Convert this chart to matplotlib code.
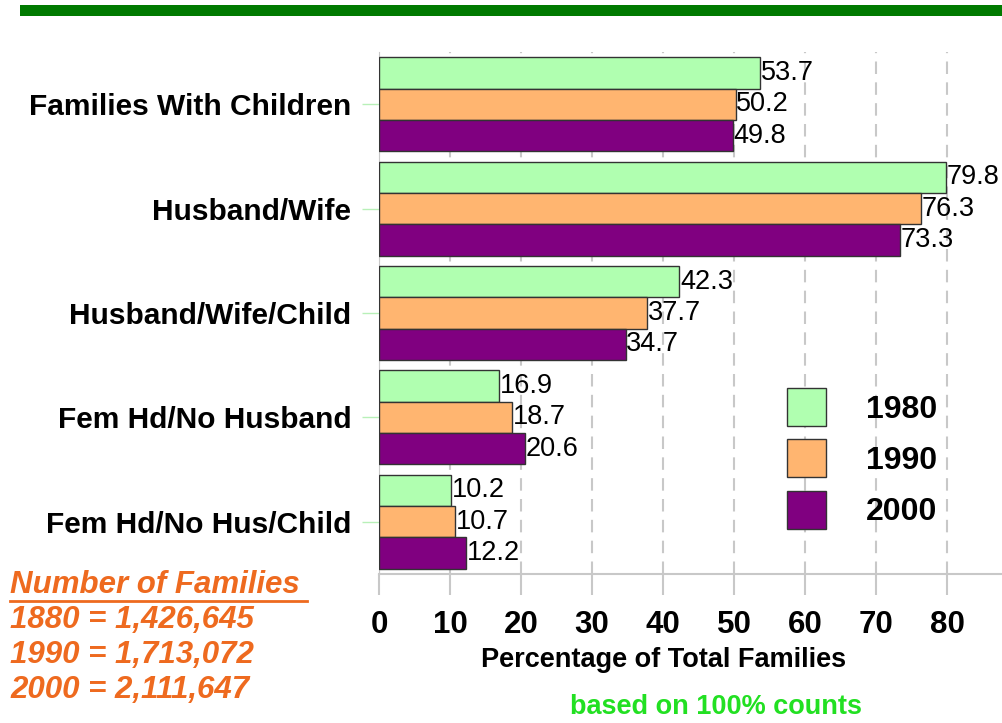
import numpy as np
import matplotlib
matplotlib.use('Agg')
import matplotlib.pyplot as plt
from matplotlib.patches import Patch, Rectangle
from matplotlib.lines import Line2D

plt.rcParams['font.family'] = ['Liberation Sans', 'DejaVu Sans']

categories = ['Families With Children', 'Husband/Wife', 'Husband/Wife/Child',
              'Fem Hd/No Husband', 'Fem Hd/No Hus/Child']
years = ['1980', '1990', '2000']
v1980 = [53.7, 79.8, 42.3, 16.9, 10.2]
v1990 = [50.2, 76.3, 37.7, 18.7, 10.7]
v2000 = [49.8, 73.3, 34.7, 20.6, 12.2]
notes = ['Number of Families', '1880 = 1,426,645', '1990 = 1,713,072', '2000 = 2,111,647']

colors = ['#B0FFB0', '#FFB570', '#800080']

fig = plt.figure(figsize=(10.02, 7.23), dpi=100)
ax = fig.add_axes([379/1002, 1-574/723, 1-379/1002, (574-52)/723])

y = np.arange(len(categories))
h = 0.3
for off, vals, c in zip([-h, 0, h], [v1980, v1990, v2000], colors):
    bars = ax.barh(y + off, vals, height=h, color=c, edgecolor='#333333', linewidth=1, zorder=3)
    for b, v in zip(bars, vals):
        ax.text(b.get_width() + 0.1, b.get_y() + h/2, f'{v:.1f}', va='center', ha='left',
                fontsize=19.5, color='black', clip_on=False, zorder=4)

ax.set_xlim(0, 87.7)
ax.set_ylim(4.5, -0.5)
ax.set_xticks(np.arange(0, 81, 10))
ax.set_yticks(y)
ax.set_yticklabels(categories, fontsize=21.5, fontweight='bold')
ax.tick_params(axis='x', length=15, color='#C8C8C8', width=1.5, pad=11,
               labelsize=22.5)
for lab in ax.get_xticklabels():
    lab.set_fontweight('bold')
ax.tick_params(axis='y', length=12, color='#B8F0B8', width=1, pad=8)
ax.grid(axis='x', color='#C8C8C8', linestyle=(0, (6, 4)), linewidth=1.5, zorder=0)
for s in ['top', 'right']:
    ax.spines[s].set_visible(False)
ax.spines['left'].set_color('#C8C8C8')
ax.spines['bottom'].set_color('#C8C8C8')
ax.spines['bottom'].set_linewidth(1.5)

fig.text(664/1002, 1-660/723, 'Percentage of Total Families', fontsize=19.5,
         fontweight='bold', ha='center', va='center')

handles = [Patch(facecolor=c, edgecolor='#333333', linewidth=1) for c in colors]
ax.legend(handles, years, loc='upper left', bbox_to_anchor=(787/1002, 1-388/723),
          bbox_transform=fig.transFigure, frameon=False, borderpad=0, borderaxespad=0,
          prop={'size': 23, 'weight': 'bold'}, handlelength=1.22, handleheight=1.45,
          handletextpad=1.25, labelspacing=0.42)

# green band at top
fig.add_artist(Rectangle((20/1002, 1-16/723), 1, 11/723, transform=fig.transFigure,
                         facecolor='#007A00', edgecolor='none'))

orange = '#EE6A1F'
ys = [585, 620, 655, 690]
for t, yy in zip(notes, ys):
    fig.text(10/1002, 1-yy/723, t, color=orange, fontsize=22.5, fontweight='bold',
             fontstyle='italic', va='center', ha='left')
fig.add_artist(Line2D([10/1002, 307/1002], [1-601/723, 1-601/723], transform=fig.transFigure,
                      color=orange, linewidth=2))

fig.text(716/1002, 1-707/723, 'based on 100% counts', color='#22E022', fontsize=19.5,
         fontweight='bold', ha='center', va='center')

fig.savefig('out.png', dpi=100)
